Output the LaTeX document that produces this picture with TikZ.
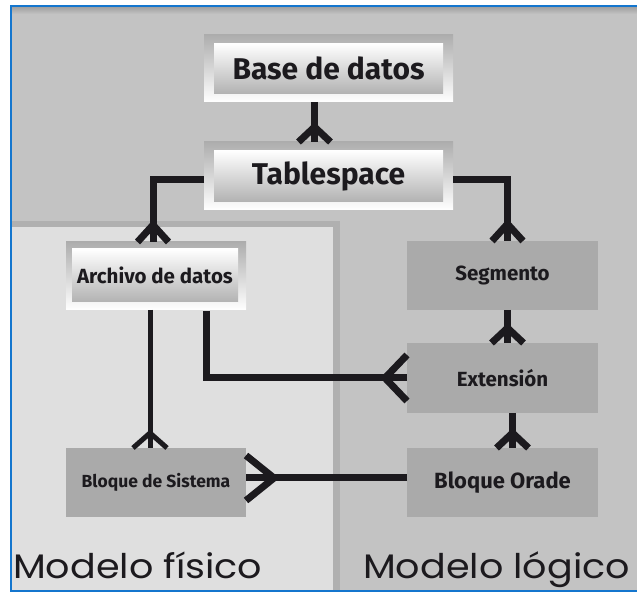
\documentclass[tikz,border=0pt]{standalone}
\usepackage{fontspec}
\usepackage{tikz}
\usetikzlibrary{positioning, arrows.meta}

\newfontfamily\boxfont{Fira Sans}
\newfontfamily\labelfont[FakeStretch=1.12]{Poppins}

\definecolor{bggray}{RGB}{195,195,195}
\definecolor{panelgray}{RGB}{223,223,223}
\definecolor{rimgray}{RGB}{176,176,176}
\definecolor{boxgray}{RGB}{170,170,170}
\definecolor{framblue}{RGB}{20,118,206}
\definecolor{textdark}{RGB}{28,26,30}

% crow's foot end
\pgfdeclarearrow{
  name = Crow,
  parameters = {\the\pgfarrowlength,\the\pgfarrowwidth},
  setup code = {
    \pgfarrowssettipend{0pt}
    \pgfarrowssetlineend{0pt}
    \pgfarrowssetvisualbackend{-\pgfarrowlength}
    \pgfarrowssetbackend{-\pgfarrowlength}
    \pgfarrowsupperhullpoint{0pt}{.5\pgfarrowwidth}
    \pgfarrowsupperhullpoint{-\pgfarrowlength}{0pt}
    \pgfarrowssavethe\pgfarrowlength
    \pgfarrowssavethe\pgfarrowwidth
  },
  drawing code = {
    \pgfpathmoveto{\pgfqpoint{0pt}{.5\pgfarrowwidth}}
    \pgfpathlineto{\pgfqpoint{-\pgfarrowlength}{0pt}}
    \pgfpathlineto{\pgfqpoint{0pt}{-.5\pgfarrowwidth}}
    \pgfusepathqstroke
  },
  defaults = {length = 15pt, width = 32pt}
}

\begin{document}
\begin{tikzpicture}[
    x=1pt, y=1pt,
    tframe/.style={inner sep=0pt, outer sep=0pt, top color=black!32, bottom color=white, minimum width=249pt, minimum height=67pt},
    tbox/.style={inner sep=0pt, top color=white, bottom color=black!30, minimum width=229pt, minimum height=50pt, text=textdark, font=\boxfont\bfseries\fontsize{30}{36}\selectfont},
    gbox/.style={fill=boxgray, inner sep=0pt, outer sep=0pt, minimum width=191pt, minimum height=69pt, text=textdark, font=\boxfont\bfseries\fontsize{20.5}{24}\selectfont},
    link/.style={draw=textdark, line width=7pt, -Crow},
    thinlink/.style={draw=textdark, line width=5pt, -Crow},
    modelo/.style={anchor=base west, inner sep=0pt, text=textdark, font=\labelfont\fontsize{34}{40}\selectfont}
]
\useasboundingbox (0,0) rectangle (637,593);
\fill[white] (0,0) rectangle (637,593);
\fill[bggray] (11,1.5) rectangle (650,586.5);
\shade[top color=black!38, bottom color=bggray] (11,579) rectangle (650,586.5);
\fill[rimgray] (11,1.5) rectangle (340,372);
\fill[panelgray] (11,1.5) rectangle (333,366);
\draw[framblue, line width=2pt] (11,1.5) rectangle (660,586.5);

% top boxes
\node[tframe] (base) at (328.5,524.5) {};
\node[tbox] (base-in) at (328.5,524.5) {Base de datos};
\node[tframe, minimum height=68pt] (tspace) at (328.5,417) {};
\node[tbox, minimum height=51pt] (tspace-in) at (328.5,417) {Tablespace};
\node[tframe, minimum width=180pt, minimum height=68pt] (archivo) at (156,317) {};
\node[tbox, minimum width=166pt, minimum height=53pt, font=\boxfont\bfseries\fontsize{20.5}{24}\selectfont] (archivo-in) at (155,317.5) {Archivo de datos};

% gray boxes
\node[gbox, minimum width=180pt, font=\boxfont\bfseries\fontsize{17.5}{21}\selectfont] (bsistema) at (156,110.5) {Bloque de Sistema};
\node[gbox] (segmento) at (502.5,317.5) {Segmento};
\node[gbox, minimum height=70pt] (extension) at (502.5,215) {Extensión};
\node[gbox, font=\boxfont\bfseries\fontsize{22}{26}\selectfont] (borade) at (502.5,110.5) {Bloque Orade};

\node[modelo] (fisico) at (13,14) {Modelo físico};
\node[modelo] (logico) at (363,14) {Modelo lógico};

\draw[link] ([xshift=-14pt]base.south) -- ([xshift=-14pt]tspace.north);
\draw[link, -{Crow[length=17pt, width=31pt]}] ([yshift=-4pt]tspace.west) -| ([xshift=-3pt]archivo.north);
\draw[link, -{Crow[length=17pt, width=31pt]}] ([yshift=-4pt]tspace.east) -| ([xshift=5pt]segmento.north);
\draw[thinlink, -{Crow[length=15pt, width=34pt]}] ([xshift=-6pt]archivo.south) -- ([xshift=-6pt]bsistema.north);
\draw[link, -{Crow[length=22pt, width=46pt]}] ([xshift=50pt, yshift=-1pt]archivo.south) |- (extension.west);
\draw[link] ([xshift=5pt]segmento.south) -- ([xshift=5pt]extension.north);
\draw[link] ([xshift=10pt]extension.south) -- ([xshift=10pt]borade.north);
\draw[link, -{Crow[length=28pt, width=45pt]}] ([yshift=4.5pt]borade.west) -- ([yshift=4.5pt]bsistema.east);
\end{tikzpicture}
\end{document}
